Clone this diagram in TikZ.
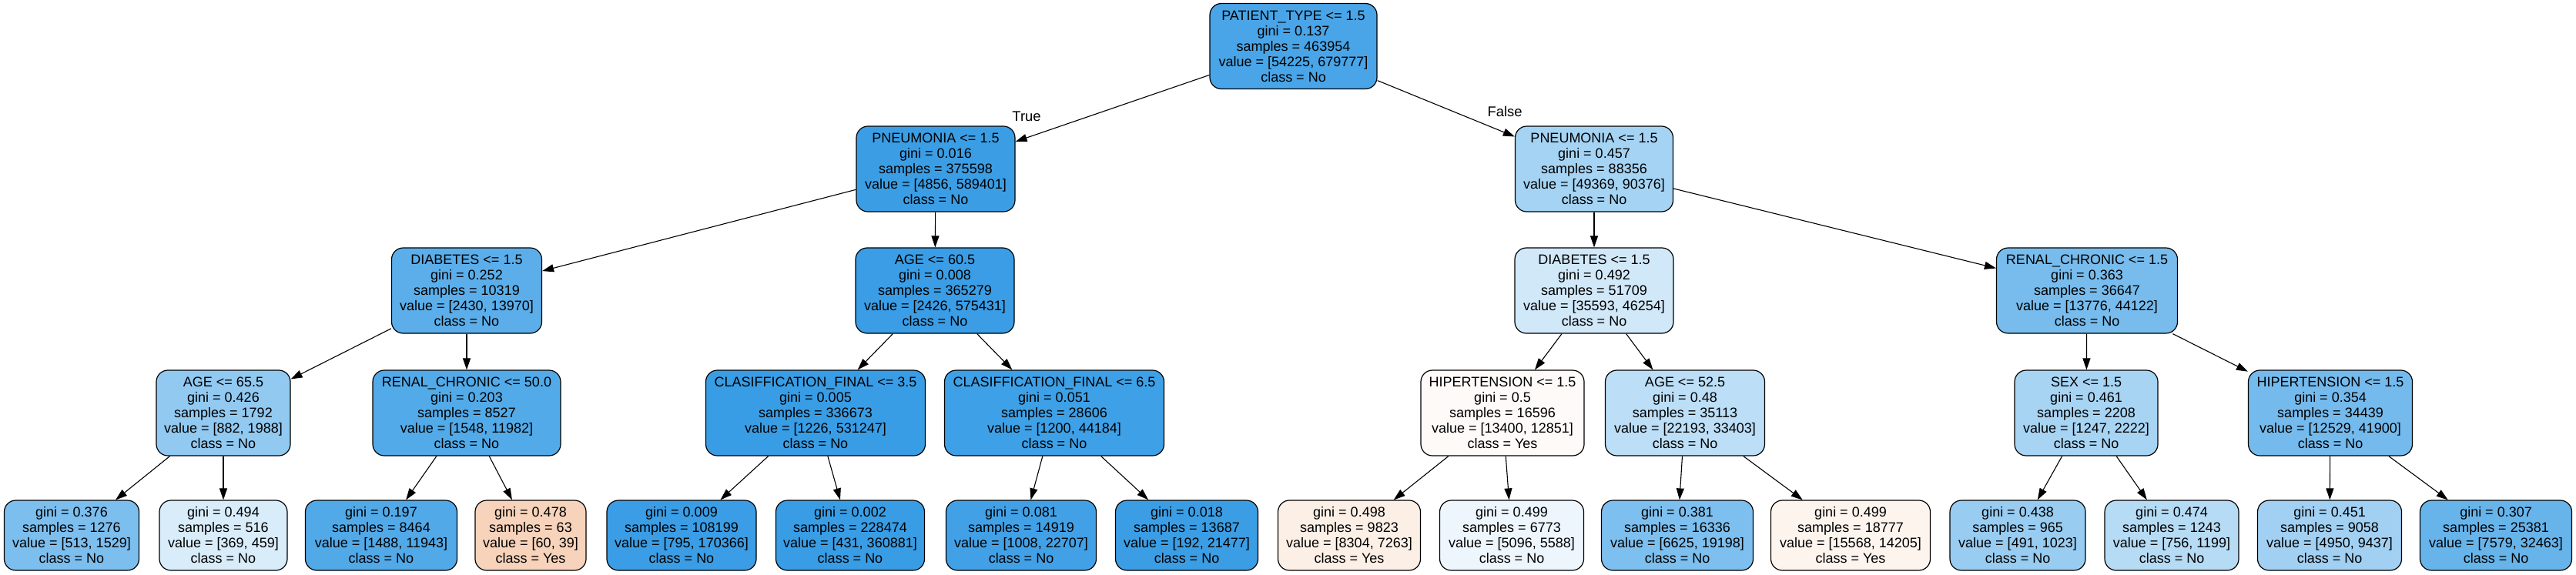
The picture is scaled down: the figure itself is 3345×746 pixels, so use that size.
\documentclass[tikz,border=0pt]{standalone}
\usepackage{fontspec}
\setmainfont{Liberation Sans}
\usetikzlibrary{arrows.meta}
\definecolor{cb}{RGB}{57,157,229}
\definecolor{co}{RGB}{229,129,57}
\begin{document}
\begin{tikzpicture}[x=0.5pt,y=-0.5pt,
  tn/.style={draw=black, line width=0.6pt, rounded corners=7.5pt, align=center,
    inner sep=0pt, minimum height=55.5pt, font=\fontsize{9}{10}\selectfont},
  lf/.style={tn, minimum height=45.5pt},
  lab/.style={inner sep=0pt, font=\fontsize{9.2}{10}\selectfont},
  con/.style={draw=black, line width=0.55pt, -{Triangle[length=7.5pt,width=5pt]}}]
\fill[white] (0,0) rectangle (3345,746);
\useasboundingbox (0,0) rectangle (3345,746);
% level 0
\node[tn, fill=cb!92!white, minimum width=108.5pt] (root) at (1679.5,60)
  {PATIENT\_TYPE <= 1.5\\gini = 0.137\\samples = 463954\\value = [54225, 679777]\\class = No};
% level 1
\node[tn, fill=cb!99.2!white, minimum width=103pt] (pl) at (1215,219.5)
  {PNEUMONIA <= 1.5\\gini = 0.016\\samples = 375598\\value = [4856, 589401]\\class = No};
\node[tn, fill=cb!45.4!white, minimum width=102.5pt] (pr) at (2070,219.5)
  {PNEUMONIA <= 1.5\\gini = 0.457\\samples = 88356\\value = [49369, 90376]\\class = No};
% level 2
\node[tn, fill=cb!82.6!white, minimum width=97.5pt] (dl) at (606,377.5)
  {DIABETES <= 1.5\\gini = 0.252\\samples = 10319\\value = [2430, 13970]\\class = No};
\node[tn, fill=cb!99.6!white, minimum width=103pt] (a60) at (1214,377.5)
  {AGE <= 60.5\\gini = 0.008\\samples = 365279\\value = [2426, 575431]\\class = No};
\node[tn, fill=cb!23!white, minimum width=103pt] (dr) at (2070,377.5)
  {DIABETES <= 1.5\\gini = 0.492\\samples = 51709\\value = [35593, 46254]\\class = No};
\node[tn, fill=cb!68.8!white, minimum width=117.5pt] (rc) at (2710,377.5)
  {RENAL\_CHRONIC <= 1.5\\gini = 0.363\\samples = 36647\\value = [13776, 44122]\\class = No};
% level 3
\node[tn, fill=cb!55.6!white, minimum width=87pt] (a65) at (290,536.5)
  {AGE <= 65.5\\gini = 0.426\\samples = 1792\\value = [882, 1988]\\class = No};
\node[tn, fill=cb!87.1!white, minimum width=122pt] (r50) at (606,536.5)
  {RENAL\_CHRONIC <= 50.0\\gini = 0.203\\samples = 8527\\value = [1548, 11982]\\class = No};
\node[tn, fill=cb!99.8!white, minimum width=142.5pt] (c35) at (1059,536.5)
  {CLASIFFICATION\_FINAL <= 3.5\\gini = 0.005\\samples = 336673\\value = [1226, 531247]\\class = No};
\node[tn, fill=cb!97.3!white, minimum width=142.5pt] (c65) at (1369,536.5)
  {CLASIFFICATION\_FINAL <= 6.5\\gini = 0.051\\samples = 28606\\value = [1200, 44184]\\class = No};
\node[tn, fill=co!4.1!white, minimum width=106pt] (hl) at (1951,536.5)
  {HIPERTENSION <= 1.5\\gini = 0.5\\samples = 16596\\value = [13400, 12851]\\class = Yes};
\node[tn, fill=cb!33.6!white, minimum width=103.5pt] (a52) at (2188,536.5)
  {AGE <= 52.5\\gini = 0.48\\samples = 35113\\value = [22193, 33403]\\class = No};
\node[tn, fill=cb!43.9!white, minimum width=93pt] (sx) at (2709,536.5)
  {SEX <= 1.5\\gini = 0.461\\samples = 2208\\value = [1247, 2222]\\class = No};
\node[tn, fill=cb!70.1!white, minimum width=106.5pt] (hr) at (3026,536.5)
  {HIPERTENSION <= 1.5\\gini = 0.354\\samples = 34439\\value = [12529, 41900]\\class = No};
% leaves
\node[lf, fill=cb!66.4!white, minimum width=87.5pt] (l1) at (93,695.5)
  {gini = 0.376\\samples = 1276\\value = [513, 1529]\\class = No};
\node[lf, fill=cb!19.6!white, minimum width=83pt] (l2) at (290,695.5)
  {gini = 0.494\\samples = 516\\value = [369, 459]\\class = No};
\node[lf, fill=cb!87.5!white, minimum width=98.5pt] (l3) at (495,695.5)
  {gini = 0.197\\samples = 8464\\value = [1488, 11943]\\class = No};
\node[lf, fill=co!35!white, minimum width=72pt] (l4) at (689,695.5)
  {gini = 0.478\\samples = 63\\value = [60, 39]\\class = Yes};
\node[lf, fill=cb!99.5!white, minimum width=97pt] (l5) at (885,695.5)
  {gini = 0.009\\samples = 108199\\value = [795, 170366]\\class = No};
\node[lf, fill=cb!99.9!white, minimum width=96.5pt] (l6) at (1104,695.5)
  {gini = 0.002\\samples = 228474\\value = [431, 360881]\\class = No};
\node[lf, fill=cb!95.6!white, minimum width=97.5pt] (l7) at (1326,695.5)
  {gini = 0.081\\samples = 14919\\value = [1008, 22707]\\class = No};
\node[lf, fill=cb!99.1!white, minimum width=92.5pt] (l8) at (1541,695.5)
  {gini = 0.018\\samples = 13687\\value = [192, 21477]\\class = No};
\node[lf, fill=co!12.5!white, minimum width=92.5pt] (l9) at (1752,695.5)
  {gini = 0.498\\samples = 9823\\value = [8304, 7263]\\class = Yes};
\node[lf, fill=cb!8.8!white, minimum width=93.5pt] (l10) at (1963,695.5)
  {gini = 0.499\\samples = 6773\\value = [5096, 5588]\\class = No};
\node[lf, fill=cb!65.5!white, minimum width=98.5pt] (l11) at (2178,695.5)
  {gini = 0.381\\samples = 16336\\value = [6625, 19198]\\class = No};
\node[lf, fill=co!8.8!white, minimum width=103.5pt] (l12) at (2403,695.5)
  {gini = 0.499\\samples = 18777\\value = [15568, 14205]\\class = Yes};
\node[lf, fill=cb!52!white, minimum width=88pt] (l13) at (2620,695.5)
  {gini = 0.438\\samples = 965\\value = [491, 1023]\\class = No};
\node[lf, fill=cb!36.9!white, minimum width=87pt] (l14) at (2820,695.5)
  {gini = 0.474\\samples = 1243\\value = [756, 1199]\\class = No};
\node[lf, fill=cb!47.5!white, minimum width=93.5pt] (l15) at (3025,695.5)
  {gini = 0.451\\samples = 9058\\value = [4950, 9437]\\class = No};
\node[lf, fill=cb!76.7!white, minimum width=98.5pt] (l16) at (3241,695.5)
  {gini = 0.307\\samples = 25381\\value = [7579, 32463]\\class = No};
% edge labels
\node[lab] (tlab) at (1333,151) {True};
\node[lab] (flab) at (1954,145) {False};
% connectors
\draw[con] (root) -- (pl);
\draw[con] (root) -- (pr);
\draw[con] (pl) -- (dl);
\draw[con] (pl) -- (a60);
\draw[con] (pr) -- (dr);
\draw[con] (pr) -- (rc);
\draw[con] (dl) -- (a65);
\draw[con] (dl) -- (r50);
\draw[con] (a60) -- (c35);
\draw[con] (a60) -- (c65);
\draw[con] (dr) -- (hl);
\draw[con] (dr) -- (a52);
\draw[con] (rc) -- (sx);
\draw[con] (rc) -- (hr);
\draw[con] (a65) -- (l1);
\draw[con] (a65) -- (l2);
\draw[con] (r50) -- (l3);
\draw[con] (r50) -- (l4);
\draw[con] (c35) -- (l5);
\draw[con] (c35) -- (l6);
\draw[con] (c65) -- (l7);
\draw[con] (c65) -- (l8);
\draw[con] (hl) -- (l9);
\draw[con] (hl) -- (l10);
\draw[con] (a52) -- (l11);
\draw[con] (a52) -- (l12);
\draw[con] (sx) -- (l13);
\draw[con] (sx) -- (l14);
\draw[con] (hr) -- (l15);
\draw[con] (hr) -- (l16);
\end{tikzpicture}
\end{document}
